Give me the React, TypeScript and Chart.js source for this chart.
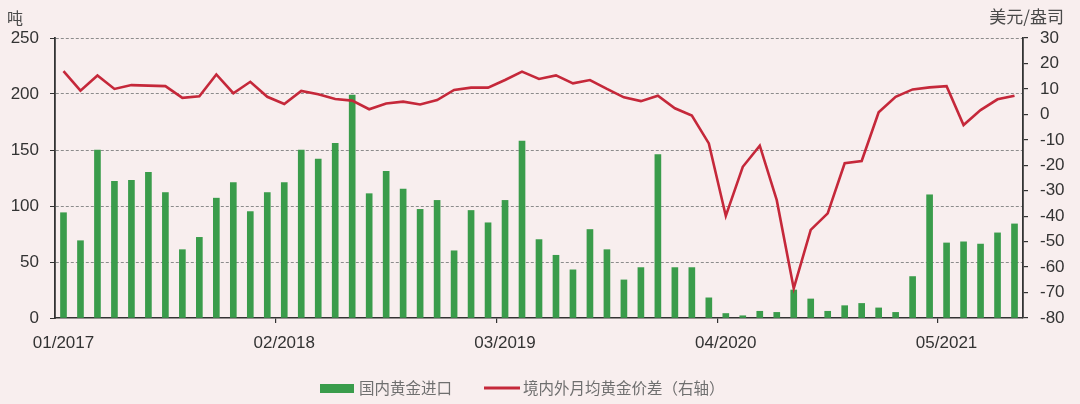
import React, { useEffect, useRef } from 'react';
import { Chart, registerables } from 'chart.js';

Chart.register(...registerables);

const categories = [
  '01/2017', '02/2017', '03/2017', '04/2017', '05/2017', '06/2017', '07/2017', '08/2017', '09/2017', '10/2017', '11/2017', '12/2017',
  '01/2018', '02/2018', '03/2018', '04/2018', '05/2018', '06/2018', '07/2018', '08/2018', '09/2018', '10/2018', '11/2018', '12/2018',
  '01/2019', '02/2019', '03/2019', '04/2019', '05/2019', '06/2019', '07/2019', '08/2019', '09/2019', '10/2019', '11/2019', '12/2019',
  '01/2020', '02/2020', '03/2020', '04/2020', '05/2020', '06/2020', '07/2020', '08/2020', '09/2020', '10/2020', '11/2020', '12/2020',
  '01/2021', '02/2021', '03/2021', '04/2021', '05/2021', '06/2021', '07/2021', '08/2021', '09/2021',
];

const tickLabels = ['01/2017', '02/2018', '03/2019', '04/2020', '05/2021'];

// 国内黄金进口 (吨)
const goldImports = [
  94, 69, 150, 122, 123, 130, 112, 61, 72, 107,
  121, 95, 112, 121, 150, 142, 156, 199, 111, 131,
  115, 97, 105, 60, 96, 85, 105, 158, 70, 56,
  43, 79, 61, 34, 45, 146, 45, 45, 18, 4,
  2, 6, 5, 25, 17, 6, 11, 13, 9, 5,
  37, 110, 67, 68, 66, 76, 84,
];

// 境内外月均黄金价差 (美元/盎司, 右轴)
const priceSpread = [
  17.0, 9.3, 15.3, 10.0, 11.5, 11.3, 11.1, 6.5, 7.1, 15.7,
  8.3, 12.8, 6.9, 4.1, 9.2, 7.9, 6.0, 5.4, 2.0, 4.3,
  5.0, 3.9, 5.6, 9.6, 10.5, 10.5, 13.5, 16.8, 13.9, 15.3,
  12.2, 13.5, 10.0, 6.7, 5.2, 7.3, 2.4, -0.5, -11.4, -39.9,
  -20.6, -12.3, -33.7, -68.4, -45.4, -38.9, -19.2, -18.3, 0.8, 6.9,
  9.8, 10.6, 11.1, -4.2, 1.7, 5.9, 7.3,
];

const leftUnit = '吨';
const rightUnit = '美元/盎司';
const barLabel = '国内黄金进口';
const lineLabel = '境内外月均黄金价差（右轴）';

const GREEN = '#3a9c4b';
const RED = '#c5283a';
const BG = '#f8eeee';
const AXIS = '#333333';
const CJK = '"Noto Sans CJK SC", "Noto Sans", sans-serif';
const LATIN = 'Arial, "Liberation Sans", "DejaVu Sans", sans-serif';

const decorPlugin = {
  id: 'decor',
  beforeDraw(chart: any) {
    const { ctx, width, height } = chart;
    ctx.save();
    ctx.fillStyle = BG;
    ctx.fillRect(0, 0, width, height);
    ctx.restore();
  },
  afterDraw(chart: any) {
    const { ctx } = chart;
    ctx.save();
    ctx.textBaseline = 'middle';
    ctx.fillStyle = '#4a4a4a';
    ctx.font = `16px ${CJK}`;
    ctx.textAlign = 'left';
    ctx.fillText(leftUnit, 7, 18);
    ctx.font = `17px ${CJK}`;
    ctx.textAlign = 'right';
    ctx.fillText(rightUnit, 1064, 17);

    // legend
    const ly = 388;
    ctx.fillStyle = GREEN;
    ctx.fillRect(320, ly - 4, 34, 9);
    ctx.strokeStyle = RED;
    ctx.lineWidth = 3;
    ctx.beginPath();
    ctx.moveTo(484, ly);
    ctx.lineTo(520, ly);
    ctx.stroke();
    ctx.fillStyle = '#6f6f6f';
    ctx.font = `15.5px ${CJK}`;
    ctx.textAlign = 'left';
    ctx.fillText(barLabel, 359, ly);
    ctx.fillText(lineLabel, 523, ly);
    ctx.restore();
  },
};

export default function App() {
  const ref = useRef<HTMLCanvasElement | null>(null);

  useEffect(() => {
    document.documentElement.style.background = BG;
    document.body.style.margin = '0';
    document.body.style.background = BG;
    if (!ref.current) return;
    const chart = new Chart(ref.current, {
      type: 'bar',
      data: {
        labels: categories,
        datasets: [
          {
            type: 'line',
            label: lineLabel,
            data: priceSpread,
            yAxisID: 'y1',
            borderColor: RED,
            borderWidth: 2.6,
            pointRadius: 0,
            tension: 0,
            order: 0,
          } as any,
          {
            type: 'bar',
            label: barLabel,
            data: goldImports,
            yAxisID: 'y',
            backgroundColor: GREEN,
            barThickness: 6,
            order: 1,
          },
        ],
      },
      options: {
        responsive: false,
        animation: false,
        layout: { padding: { top: 38, left: 0, right: 0, bottom: 0 } },
        plugins: {
          legend: { display: false },
          tooltip: { enabled: false },
        },
        scales: {
          x: {
            type: 'category',
            offset: true,
            grid: {
              offset: true,
              drawOnChartArea: false,
              tickLength: 5,
              color: (c: any) => (tickLabels.includes(categories[c.index]) && c.index > 0 ? AXIS : 'rgba(0,0,0,0)'),
              lineWidth: 1.2,
            },
            border: { color: AXIS, width: 1.5 },
            ticks: {
              autoSkip: false,
              maxRotation: 0,
              minRotation: 0,
              padding: 10,
              color: '#333',
              font: { family: LATIN, size: 17 },
              callback: (_v: any, i: number) => (tickLabels.includes(categories[i]) ? categories[i] : ''),
            },
            afterFit: (s: any) => { s.height = 86; },
          },
          y: {
            position: 'left',
            min: 0,
            max: 250,
            ticks: {
              stepSize: 50,
              padding: 11,
              color: '#333',
              font: { family: LATIN, size: 17 },
            },
            grid: {
              drawOnChartArea: true,
              tickLength: 5,
              color: (c: any) => (c.tick && c.tick.value === 0 ? 'rgba(0,0,0,0)' : '#8c8c8c'),
              tickColor: AXIS,
              tickBorderDash: [],
              lineWidth: 1,
            } as any,
            border: { color: AXIS, width: 1.8, dash: [3, 2] },
            afterFit: (s: any) => { s.width = 55; },
          },
          y1: {
            position: 'right',
            min: -80,
            max: 30,
            ticks: {
              stepSize: 10,
              padding: 12,
              color: '#333',
              font: { family: LATIN, size: 17 },
            },
            grid: {
              drawOnChartArea: false,
              tickLength: 5,
              color: AXIS,
              lineWidth: 1.2,
            },
            border: { color: AXIS, width: 1.8 },
            afterFit: (s: any) => { s.width = 57; },
          },
        },
      },
      plugins: [decorPlugin],
    });
    return () => chart.destroy();
  }, []);

  return (
    <div style={{ width: 1080, height: 404, background: BG }}>
      <canvas ref={ref} width={1080} height={404} style={{ display: 'block' }} />
    </div>
  );
}
